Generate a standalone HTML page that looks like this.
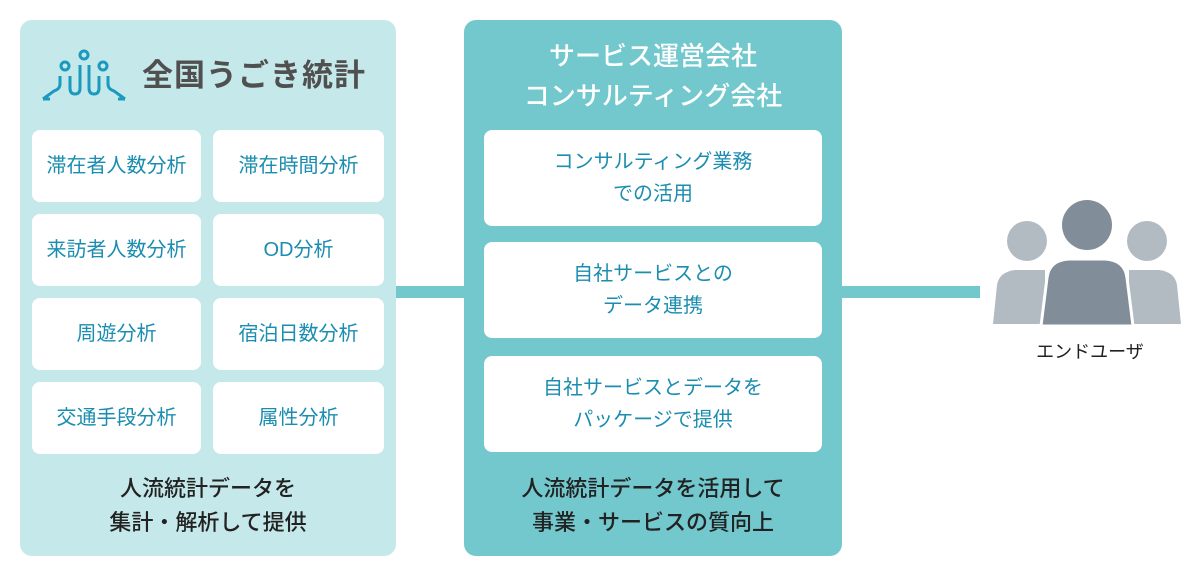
<!DOCTYPE html>
<html><head><meta charset="utf-8"><style>
body{margin:0;width:1200px;height:575px;background:#fff;position:relative;font-family:"Liberation Sans","Noto Sans CJK JP",sans-serif;overflow:hidden}
.a{position:absolute}
.p{position:absolute;border-radius:12px}
.c{position:absolute;background:#fff;border-radius:8px;display:flex;align-items:center;justify-content:center;text-align:center;color:#1b8db0;font-size:20px;line-height:32px}
.t{position:absolute;text-align:center;color:#222;font-size:22px;line-height:34px;font-weight:500}
</style></head><body>
<div class="a" style="left:396px;top:286px;width:68px;height:12px;background:#73c8ce"></div>
<div class="a" style="left:842px;top:286px;width:138px;height:12px;background:#73c8ce"></div>
<div class="p" style="left:20px;top:20px;width:376px;height:536px;background:#c5e8ea"></div>
<div class="p" style="left:464px;top:20px;width:378px;height:536px;background:#73c8ce"></div>
<svg class="a" style="left:40px;top:46px" width="90" height="56" viewBox="0 0 90 56">
<g fill="none" stroke="#1b9ac0" stroke-width="3">
<circle cx="25" cy="20" r="4"/><circle cx="44" cy="9" r="4"/><circle cx="63" cy="20" r="4"/>
<path d="M3 53 L14 45 Q20 43 20 38 L20 30 M30 30 L30 42 Q30 48 35 48 Q40 48 40 42 L40 19 M49 19 L49 42 Q49 48 54 48 Q59 48 59 42 L59 30 M68 30 L68 38 Q68 43 74 45 L85 53 M3 53 L10 53 M85 53 L78 53"/>
</g></svg>
<div class="a" style="left:142px;top:56px;font-size:31px;color:#505050;font-weight:700;letter-spacing:1px;line-height:40px">全国うごき統計</div>
<div class="c" style="left:32px;top:130px;width:169px;height:72px">滞在者人数分析</div>
<div class="c" style="left:213px;top:130px;width:171px;height:72px">滞在時間分析</div>
<div class="c" style="left:32px;top:214px;width:169px;height:72px">来訪者人数分析</div>
<div class="c" style="left:213px;top:214px;width:171px;height:72px">OD分析</div>
<div class="c" style="left:32px;top:298px;width:169px;height:72px">周遊分析</div>
<div class="c" style="left:213px;top:298px;width:171px;height:72px">宿泊日数分析</div>
<div class="c" style="left:32px;top:382px;width:169px;height:72px">交通手段分析</div>
<div class="c" style="left:213px;top:382px;width:171px;height:72px">属性分析</div>
<div class="t" style="left:20px;top:472px;width:376px">人流統計データを<br>集計・解析して提供</div>
<div class="a" style="left:464px;top:36px;width:378px;text-align:center;color:#fff;font-size:26px;line-height:40px;font-weight:500">サービス運営会社<br>コンサルティング会社</div>
<div class="c" style="left:484px;top:130px;width:338px;height:96px">コンサルティング業務<br>での活用</div>
<div class="c" style="left:484px;top:242px;width:338px;height:96px">自社サービスとの<br>データ連携</div>
<div class="c" style="left:484px;top:356px;width:338px;height:96px">自社サービスとデータを<br>パッケージで提供</div>
<div class="t" style="left:464px;top:472px;width:378px">人流統計データを活用して<br>事業・サービスの質向上</div>
<svg class="a" style="left:985px;top:190px" width="210" height="140">
<circle cx="42" cy="51" r="20" fill="#b3bbc2"/><circle cx="162" cy="51" r="20" fill="#b3bbc2"/>
<path d="M8 134 L12 95 Q14 82 30 80 L60 80 L60 134Z" fill="#b3bbc2"/>
<path d="M196 134 L192 95 Q190 82 174 80 L144 80 L144 134Z" fill="#b3bbc2"/>
<circle cx="102" cy="35" r="25" fill="#818d99"/>
<path d="M56 136 L62 88 Q64 70 84 69 L120 69 Q140 70 142 88 L148 136Z" fill="#818d99" stroke="#fff" stroke-width="3"/>
</svg>
<div class="a" style="left:985px;top:338px;width:210px;text-align:center;font-size:18px;color:#222;line-height:28px">エンドユーザ</div>
</body></html>
